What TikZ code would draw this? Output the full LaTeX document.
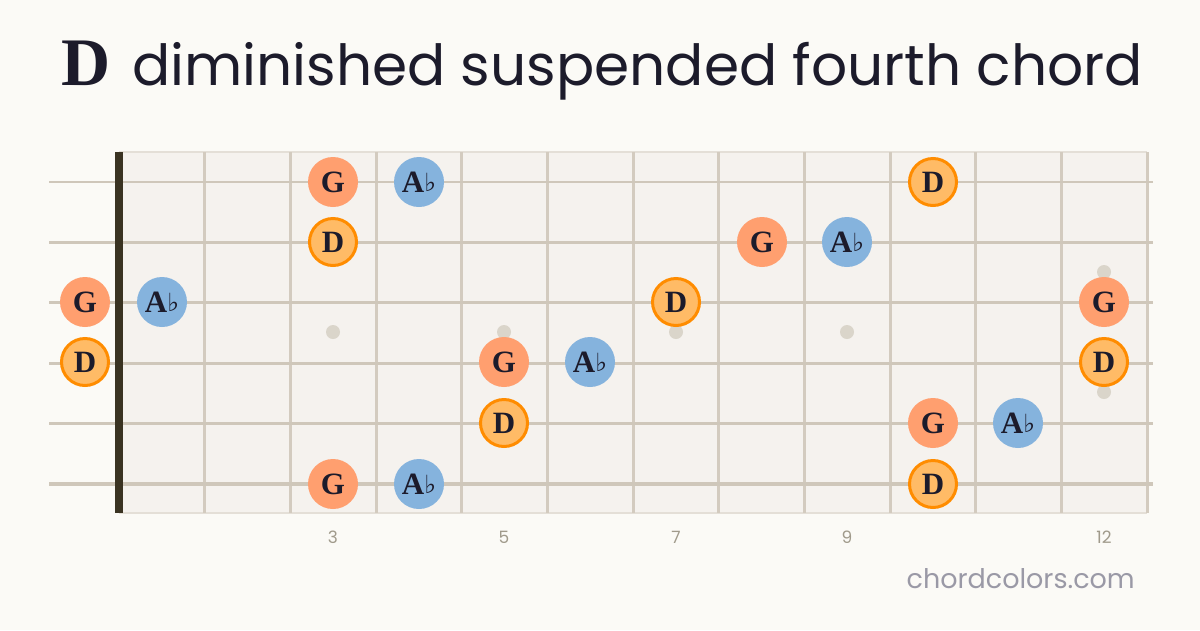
\documentclass[tikz,border=0pt]{standalone}
\usepackage{fontspec}
\setmainfont{Liberation Serif}
\newfontfamily\titlefont{Poppins}
\newfontfamily\flatfont{DejaVu Serif}
\definecolor{bgc}{HTML}{FBFAF6}
\definecolor{boardc}{HTML}{F5F2EE}
\definecolor{edgec}{HTML}{E4DFD7}
\definecolor{fretc}{HTML}{D3CBBF}
\definecolor{stringc}{HTML}{CFC7BA}
\definecolor{nutc}{HTML}{3A3322}
\definecolor{inlayc}{HTML}{DAD5CA}
\definecolor{txtc}{HTML}{1C1B2B}
\definecolor{gfill}{HTML}{FF9F6F}
\definecolor{afill}{HTML}{85B3DD}
\definecolor{dfill}{HTML}{FFBB66}
\definecolor{dedge}{HTML}{FF8C00}
\definecolor{numc}{HTML}{A09A8B}
\definecolor{sitec}{HTML}{9A99A6}
\newcommand{\flt}{{\flatfont\fontsize{25}{25}\selectfont\raisebox{1pt}{♭}}}
\begin{document}
\begin{tikzpicture}[x=1pt,y=-1pt,
  note/.style={circle, minimum size=50pt, inner sep=0pt, text=txtc,
    font=\fontsize{31}{31}\selectfont\bfseries},
  gnote/.style={note, fill=gfill},
  anote/.style={note, fill=afill},
  dnote/.style={note, fill=dfill, draw=dedge, line width=3pt, minimum size=47pt},
  fretnum/.style={text=numc, font=\titlefont\fontsize{17}{17}\selectfont},
  inlay/.style={circle, fill=inlayc, minimum size=14pt, inner sep=0pt}]
\fill[bgc] (0,0) rectangle (1200,630);
\useasboundingbox (0,0) rectangle (1200,630);
% board
\fill[boardc] (119,152) rectangle (1147,513);
\draw[edgec, line width=1.5pt] (119,152) -- (1147,152);
\draw[edgec, line width=1.5pt] (119,513) -- (1147,513);
\foreach \i in {1,...,12} \draw[fretc, line width=3pt] ({119+\i*85.67},152) -- ({119+\i*85.67},513);
% inlays
\node[inlay] (i3) at (333,332) {};
\node[inlay] (i5) at (504,332) {};
\node[inlay] (i7) at (676,332) {};
\node[inlay] (i9) at (847,332) {};
\node[inlay] (i12a) at (1104,272) {};
\node[inlay] (i12b) at (1104,392) {};
% strings
\foreach \s/\w in {0/2,1/2.4,2/2.8,3/3.2,4/3.6,5/4}
  \draw[stringc, line width=\w pt] (49,{182+\s*60.4}) -- (1153,{182+\s*60.4});
% nut
\fill[nutc] (115,152) rectangle (123,513);
% string 1
\node[gnote] (n1a) at (333,182) {G};
\node[anote] (n1b) at (419,182) {A\flt};
\node[dnote] (n1c) at (933,182) {D};
% string 2
\node[dnote] (n2a) at (333,242) {D};
\node[gnote] (n2b) at (762,242) {G};
\node[anote] (n2c) at (847,242) {A\flt};
% string 3
\node[gnote] (n3a) at (85,302) {G};
\node[anote] (n3b) at (162,302) {A\flt};
\node[dnote] (n3c) at (676,302) {D};
\node[gnote] (n3d) at (1104,302) {G};
% string 4
\node[dnote] (n4a) at (85,362) {D};
\node[gnote] (n4b) at (504,362) {G};
\node[anote] (n4c) at (590,362) {A\flt};
\node[dnote] (n4d) at (1104,362) {D};
% string 5
\node[dnote] (n5a) at (504,423) {D};
\node[gnote] (n5b) at (933,423) {G};
\node[anote] (n5c) at (1018,423) {A\flt};
% string 6
\node[gnote] (n6a) at (333,484) {G};
\node[anote] (n6b) at (419,484) {A\flt};
\node[dnote] (n6c) at (933,484) {D};
% fret numbers
\node[fretnum] (f3) at (333,537) {3};
\node[fretnum] (f5) at (504,537) {5};
\node[fretnum] (f7) at (676,537) {7};
\node[fretnum] (f9) at (847,537) {9};
\node[fretnum] (f12) at (1104,537) {12};
% title
\node[anchor=base west, text=txtc, inner sep=0pt] (titleD) at (61,85)
  {\bfseries\fontsize{68}{68}\selectfont D};
\node[anchor=base west, text=txtc, inner sep=0pt] (title) at (132,85)
  {\titlefont\fontsize{56.6}{56.6}\selectfont diminished suspended fourth chord};
\node[anchor=base east, text=sitec, inner sep=0pt] (site) at (1135,588)
  {\titlefont\fontsize{27}{27}\selectfont chordcolors.com};
\end{tikzpicture}
\end{document}
